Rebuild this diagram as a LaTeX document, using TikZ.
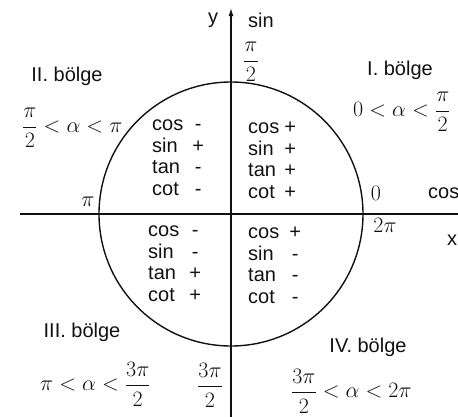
\RequirePackage{fix-cm}
\documentclass[tikz,border=0pt]{standalone}
\usepackage{amsmath}
\usepackage{fontspec}
\setmainfont{Liberation Sans}
\usetikzlibrary{arrows.meta}
\definecolor{inkblk}{HTML}{111111}

\begin{document}
\begin{tikzpicture}[x=1pt, y=-1pt,
  axis/.style={draw=inkblk, line width=1.3pt},
  ring/.style={draw=inkblk, line width=1.4pt},
  lbl/.style={text=inkblk, inner sep=0pt, font=\fontsize{20}{21.7}\selectfont},
  mth/.style={lbl, font=\fontsize{22}{24}\selectfont},
  tab/.style={lbl, anchor=north west},
]
\useasboundingbox (0,0) rectangle (458,416);
\clip (0,0) rectangle (458,416);
% axes and unit circle
\coordinate (O) at (231,214);
\coordinate (xl) at (20,214);
\coordinate (xr) at (470,214);
\coordinate (yb) at (231,420);
\coordinate (yt) at (231,8);
\draw[axis] (xl) -- (xr);
\draw[axis, -{Latex[length=8pt,width=5pt]}] (yb) -- (yt);
\draw[ring] (O) circle[radius=132];
% axis labels
\node[lbl] (ylab) at (213,20) {y};
\node[lbl] (sinlab) at (261,20) {sin};
\node[lbl, anchor=west] (coslab) at (428,193) {cos};
\node[lbl, anchor=west] (xlab) at (447,240) {x};
\node[mth] (top) at (251,62) {$\dfrac{\pi}{2}$};
\node[mth] (left) at (88,202) {$\pi$};
\node[mth] (zero) at (376,193) {$0$};
\node[mth] (twopi) at (385,225) {$2\pi$};
\node[mth] (bottom) at (210,385) {$\dfrac{3\pi}{2}$};
% quadrant names and ranges
\node[lbl] (q1) at (400,70) {I. bölge};
\node[lbl] (q2) at (67,76) {II. bölge};
\node[lbl] (q3) at (82,332) {III. bölge};
\node[lbl] (q4) at (368,347) {IV. bölge};
\node[mth, anchor=west] (r1) at (353,112) {$0 < \alpha < \dfrac{\pi}{2}$};
\node[mth, anchor=west] (r2) at (22,128) {$\dfrac{\pi}{2} < \alpha < \pi$};
\node[mth, anchor=west] (r3) at (40,384) {$\pi < \alpha < \dfrac{3\pi}{2}$};
\node[mth, anchor=west] (r4) at (291,391) {$\dfrac{3\pi}{2} < \alpha < 2\pi$};
% sign tables
\node[tab] (t1) at (248,118) {\begin{tabular}{@{}l@{\hspace{5pt}}c@{}}cos & +\\ sin & +\\ tan & +\\ cot & +\end{tabular}};
\node[tab] (t2) at (152,115) {\begin{tabular}{@{}l@{\hspace{9pt}}c@{}}cos & -\\ sin & +\\ tan & -\\ cot & -\end{tabular}};
\node[tab] (t3) at (148,221) {\begin{tabular}{@{}l@{\hspace{10pt}}c@{}}cos & -\\ sin & -\\ tan & +\\ cot & +\end{tabular}};
\node[tab] (t4) at (248,223) {\begin{tabular}{@{}l@{\hspace{10pt}}c@{}}cos & +\\ sin & -\\ tan & -\\ cot & -\end{tabular}};
\end{tikzpicture}
\end{document}
